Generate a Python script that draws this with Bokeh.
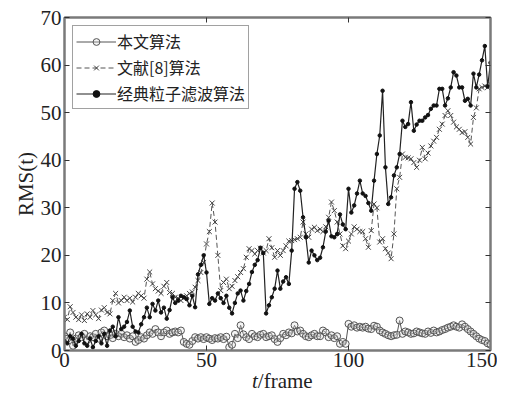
from bokeh.plotting import figure
from bokeh.layouts import column
from bokeh.models import Range1d, FixedTicker, LinearAxis, Legend, LegendItem, CustomLabelingPolicy, Div
from bokeh.embed import file_html
from bokeh.resources import INLINE

frames = list(range(151))

ours = [3.0, 2.5, 3.8, 1.0, 2.5, 3.2, 2.8, 3.5, 2.2, 3.0,
        2.8, 3.5, 2.5, 3.8, 4.2, 3.0, 3.2, 2.6, 3.5, 3.0,
        3.5, 2.8, 3.2, 2.5, 3.0, 1.8, 2.2, 2.8, 2.5, 3.2,
        3.8, 3.5, 4.5, 3.8, 3.0, 3.8, 4.2, 3.5, 3.8, 4.0,
        3.8, 4.2, 1.8, 1.4, 1.2, 2.0, 2.8, 2.5, 2.8, 2.4,
        2.8, 2.5, 2.2, 2.6, 2.5, 2.8, 2.4, 2.9, 0.7, 1.2,
        3.5, 2.6, 5.3, 3.4, 2.8, 2.4, 3.5, 3.0, 2.8, 3.3,
        3.5, 2.8, 3.0, 3.2, 2.4, 1.8, 2.6, 3.5, 3.2, 3.8,
        3.6, 5.3, 4.0, 4.2, 3.5, 3.0, 2.8, 3.2, 3.5, 3.0,
        3.0, 4.2, 3.8, 2.8, 3.2, 2.6, 3.0, 1.4, 1.8, 1.4,
        5.6, 5.0, 5.3, 4.8, 5.0, 4.8, 5.0, 4.6, 4.5, 5.2,
        5.0, 4.2, 3.8, 3.5, 3.2, 3.0, 3.2, 3.3, 6.3, 3.5,
        4.0, 3.8, 3.5, 3.6, 4.0, 3.8, 3.6, 3.5, 4.0, 3.7,
        4.2, 3.8, 4.0, 4.3, 4.5, 4.8, 5.0, 5.3, 5.0, 4.8,
        5.5, 5.0, 4.5, 4.0, 3.5, 3.0, 2.5, 2.2, 2.0, 1.5,
        1.2]

ref8 = [7.0, 6.5, 9.2, 8.0, 7.0, 6.5, 7.5, 6.3, 7.7, 7.0,
        8.4, 7.5, 6.7, 8.5, 9.0, 8.0, 7.7, 10.5, 12.0, 10.0,
        10.5, 11.2, 10.5, 11.0, 10.2, 11.2, 12.0, 11.5, 11.0, 15.0,
        16.5, 14.0, 13.0, 12.5, 12.0, 13.5, 14.3, 12.2, 12.0, 11.2,
        11.0, 10.5, 11.0, 11.5, 12.0, 12.3, 13.3, 14.7, 16.4, 18.5,
        22.4, 25.0, 31.0, 27.0, 20.0, 12.6, 14.3, 15.0, 13.0, 13.5,
        14.7, 15.5, 16.4, 17.2, 19.6, 21.4, 21.0, 20.3, 21.0, 21.5,
        20.5, 21.0, 23.5, 21.6, 19.6, 21.0, 20.0, 21.0, 22.0, 23.0,
        23.1, 23.3, 23.5, 23.8, 27.0, 24.5, 23.8, 25.5, 25.9, 25.2,
        25.5, 25.0, 26.0, 28.0, 31.2, 29.4, 27.0, 24.5, 22.0, 21.4,
        23.0, 24.5, 26.0, 25.5, 25.0, 25.0, 23.5, 21.7, 25.2, 30.8,
        30.0, 22.8, 23.5, 21.4, 20.5, 19.3, 24.5, 34.0, 36.4, 41.3,
        40.6, 40.5, 40.3, 39.5, 38.5, 40.0, 42.7, 40.3, 41.5, 43.0,
        44.0, 44.8, 46.5, 47.6, 49.4, 50.4, 49.4, 48.0, 47.0, 46.5,
        45.8, 46.0, 44.8, 43.4, 49.0, 51.0, 55.0, 55.3, 55.6, 55.3,
        56.0]

classic = [2.0, 1.5, 3.0, 2.5, 1.0, 2.0, 3.5, 1.5, 1.0, 2.5,
           0.7, 2.0, 3.0, 1.5, 3.5, 1.0, 4.2, 5.0, 3.0, 7.0,
           4.5, 5.0, 6.0, 8.4, 5.0, 4.0, 3.8, 5.5, 7.0, 9.0,
           7.0, 9.8, 8.4, 10.5, 8.0, 9.0, 6.7, 8.5, 11.2, 10.0,
           10.5, 11.5, 11.2, 10.8, 9.5, 11.5, 9.1, 16.0, 18.0, 20.0,
           16.4, 9.8, 11.0, 10.5, 12.0, 11.0, 10.0, 11.5, 9.0, 7.8,
           10.0, 12.0, 12.6, 10.5, 12.5, 14.0, 16.5, 18.0, 19.0, 21.6,
           20.5, 7.8, 9.5, 11.2, 13.0, 16.8, 13.0, 14.5, 15.4, 14.0,
           21.0, 34.0, 35.4, 33.6, 28.0, 23.8, 18.5, 21.0, 20.0, 19.0,
           19.5, 21.7, 25.0, 27.3, 24.0, 23.8, 24.5, 28.6, 26.5, 25.5,
           34.0, 29.0, 30.5, 33.0, 35.7, 33.0, 32.5, 31.0, 29.4, 35.7,
           41.3, 45.2, 54.6, 38.5, 30.8, 32.2, 36.8, 38.5, 41.3, 48.3,
           47.0, 47.6, 52.2, 46.2, 47.5, 48.3, 48.3, 49.0, 49.5, 50.8,
           51.5, 51.5, 55.0, 55.0, 51.5, 53.0, 55.3, 58.5, 57.8, 55.3,
           55.3, 52.5, 52.9, 51.5, 58.2, 55.3, 58.0, 61.0, 64.0, 55.5,
           60.5]

x_ticks = [0, 50, 100, 150]
y_ticks = [0, 10, 20, 30, 40, 50, 60, 70]
names = ["本文算法", "文献[8]算法", "经典粒子滤波算法"]

FRAME = "#7a7a7a"
SERIF = "Liberation Serif"

p = figure(width=497, height=376, output_backend="svg", toolbar_location=None,
           x_range=Range1d(0, 150), y_range=Range1d(0, 70),
           min_border_left=64, min_border_right=7, min_border_top=17, min_border_bottom=26)
p.background_fill_color = "white"
p.border_fill_color = "white"
p.outline_line_color = FRAME
p.outline_line_width = 2
p.xgrid.visible = False
p.ygrid.visible = False

for ax, ticks in ((p.xaxis[0], x_ticks), (p.yaxis[0], y_ticks)):
    ax.ticker = FixedTicker(ticks=ticks)
    ax.minor_tick_line_color = None
    ax.major_tick_in = 5
    ax.major_tick_out = 0
    ax.major_tick_line_color = "#333333"
    ax.axis_line_color = FRAME
    ax.axis_line_width = 2
    ax.major_label_text_font = SERIF
    ax.major_label_text_font_size = "21px"
    ax.major_label_text_color = "#222222"
    ax.major_label_standoff = 3
p.xaxis[0].major_label_standoff = 2

p.yaxis[0].axis_label = "RMS(t)"
p.yaxis[0].axis_label_text_font = SERIF
p.yaxis[0].axis_label_text_font_size = "21px"
p.yaxis[0].axis_label_text_font_style = "normal"
p.yaxis[0].axis_label_text_color = "#222222"
p.yaxis[0].axis_label_standoff = 0

hide_all = CustomLabelingPolicy(code="""
    const all = [...indices]
    for (const i of all) indices.unset(i)
    return indices
""")

for loc, ticks in (("above", x_ticks), ("right", y_ticks)):
    ax = LinearAxis(ticker=FixedTicker(ticks=ticks))
    ax.minor_tick_line_color = None
    ax.major_tick_in = 5
    ax.major_tick_out = 0
    ax.major_tick_line_color = "#333333"
    ax.axis_line_color = FRAME
    ax.axis_line_width = 2
    ax.major_label_policy = hide_all
    ax.major_label_text_font_size = "1px"
    ax.major_label_standoff = 0
    p.add_layout(ax, loc)

# series
r1l = p.line(frames, ours, line_color="#555555", line_width=1)
r1m = p.scatter(frames, ours, marker="circle", size=7, line_color="#555555",
                fill_color="#dddddd", fill_alpha=0.3, line_width=1)
r2l = p.line(frames, ref8, line_color="#555555", line_width=1, line_dash="5 3")
r2m = p.scatter(frames, ref8, marker="x", size=7, line_color="#444444", line_width=1)
r3l = p.line(frames, classic, line_color="#222222", line_width=1.2)
r3m = p.scatter(frames, classic, marker="circle", size=3.5, line_color="#111111",
                fill_color="#111111")

legend = Legend(items=[LegendItem(label=names[0], renderers=[r1l, r1m]),
                       LegendItem(label=names[1], renderers=[r2l, r2m]),
                       LegendItem(label=names[2], renderers=[r3l, r3m])],
                location="top_left")
legend.label_text_font = "Noto Sans CJK SC"
legend.label_text_font_size = "16px"
legend.label_text_color = "#222222"
legend.glyph_width = 40
legend.glyph_height = 17
legend.label_height = 17
legend.label_standoff = 1
legend.spacing = 2
legend.padding = 3
legend.margin = 8
legend.border_line_color = "#444444"
legend.border_line_width = 1
legend.background_fill_color = "white"
legend.background_fill_alpha = 1
p.add_layout(legend, "center")

xlabel = Div(
    text='<span style="position:relative; top:-4px; margin-left:252px; '
         'font-family:\'Liberation Serif\'; font-size:21px; line-height:18px; '
         'color:#222222; white-space:nowrap;"><i>t</i>/frame</span>',
    width=497, height=18, margin=0)

layout = column(p, xlabel, spacing=0)

open("out.html", "w").write(file_html(layout, INLINE))
